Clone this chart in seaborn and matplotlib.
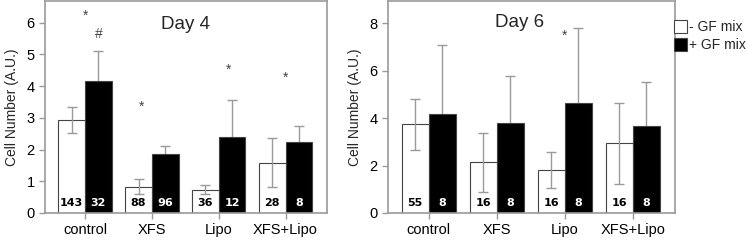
import numpy as np
import pandas as pd
import seaborn as sns
import matplotlib.pyplot as plt

categories = ['control', 'XFS', 'Lipo', 'XFS+Lipo']
groups = ['- GF mix', '+ GF mix']

# Day 4
day4_minus = [2.93, 0.83, 0.73, 1.59]
day4_minus_err = [0.40, 0.24, 0.14, 0.77]
day4_plus = [4.17, 1.86, 2.38, 2.25]
day4_plus_err = [0.94, 0.26, 1.18, 0.48]
day4_n_minus = [143, 88, 36, 28]
day4_n_plus = [32, 96, 12, 8]

# Day 6
day6_minus = [3.73, 2.13, 1.81, 2.93]
day6_minus_err = [1.08, 1.25, 0.75, 1.72]
day6_plus = [4.18, 3.78, 4.62, 3.66]
day6_plus_err = [2.91, 1.99, 3.16, 1.87]
day6_n_minus = [55, 16, 16, 16]
day6_n_plus = [8, 8, 8, 8]

# significance marks: (offset from category, symbol, y) and their category
day4_marks = [(0.0, '*', 6.2), (0.2, '#', 5.65), (-0.15, '*', 3.35), (0.15, '*', 4.5), (0.0, '*', 4.25)]
day4_marks_x = [0, 0, 1, 2, 3]
day6_marks = [(0.0, '*', 7.45)]
day6_marks_x = [2]

sns.set_style('ticks')
plt.rcParams['font.family'] = ['Liberation Sans', 'DejaVu Sans']

GRAY = '#9a9a9a'


def panel(ax, minus, minus_err, plus, plus_err, n_minus, n_plus, ymax, yticks, title, title_xy,
          marks, marks_x):
    df = pd.DataFrame({
        'category': categories * 2,
        'group': [groups[0]] * 4 + [groups[1]] * 4,
        'value': minus + plus,
    })
    sns.barplot(data=df, x='category', y='value', hue='group', order=categories,
                hue_order=groups, palette=['white', 'black'], edgecolor='#444444',
                linewidth=0.8, width=0.8, errorbar=None, ax=ax, zorder=2, legend=True)

    errs = [minus_err, plus_err]
    counts = [n_minus, n_plus]
    bar_sets = list(ax.containers)[:2]
    for i, cont in enumerate(bar_sets):
        xs = [b.get_x() + b.get_width() / 2 for b in cont.patches]
        hs = [b.get_height() for b in cont.patches]
        ax.errorbar(xs, hs, yerr=errs[i], fmt='none', ecolor=GRAY, elinewidth=1.0,
                    capsize=3.5, capthick=1.0, zorder=3 if i == 0 else 1)
        for x, n in zip(xs, counts[i]):
            ax.text(x, ymax * 0.047, str(n), ha='center', va='center', fontsize=8,
                    fontweight='bold', family='DejaVu Sans',
                    color='black' if i == 0 else 'white', zorder=4)

    for (dx, sym, y), cx in zip(marks, marks_x):
        ax.text(cx + dx, y, sym, ha='center', va='center', fontsize=10, color='#444444')

    ax.text(title_xy[0], title_xy[1], title, ha='center', va='center', fontsize=13.5)

    ax.set_xlim(-0.6, 3.62)
    ax.set_ylim(0, ymax)
    ax.set_yticks(yticks)
    ax.set_xlabel('')
    ax.set_ylabel('Cell Number (A.U.)', fontsize=10)
    ax.tick_params(axis='both', colors=GRAY, labelcolor='black', labelsize=10.5, length=4, width=1)
    for s in ax.spines.values():
        s.set_visible(True)
        s.set_color(GRAY)
        s.set_linewidth(1.2)


fig = plt.figure(figsize=(7.46, 2.42), dpi=100)
ax1 = fig.add_axes([45 / 746, 29 / 242, 282 / 746, 212 / 242])
ax2 = fig.add_axes([388 / 746, 29 / 242, 287 / 746, 212 / 242])

panel(ax1, day4_minus, day4_minus_err, day4_plus, day4_plus_err, day4_n_minus, day4_n_plus,
      6.68, range(0, 7), 'Day 4', (1.5, 5.93), day4_marks, day4_marks_x)
panel(ax2, day6_minus, day6_minus_err, day6_plus, day6_plus_err, day6_n_minus, day6_n_plus,
      8.93, range(0, 9, 2), 'Day 6', (1.33, 8.04), day6_marks, day6_marks_x)

ax1.yaxis.labelpad = 5
ax2.yaxis.labelpad = 5

handles, labels = ax2.get_legend_handles_labels()
ax1.get_legend().remove()
ax2.get_legend().remove()
fig.legend(handles, labels, loc='upper left', bbox_to_anchor=(674 / 746, 1 - 20 / 242),
           frameon=False, fontsize=10, handlelength=0.9, handleheight=1.1,
           handletextpad=0.15, borderpad=0, borderaxespad=0, labelspacing=0.25)

fig.savefig('out.png', dpi=100)
